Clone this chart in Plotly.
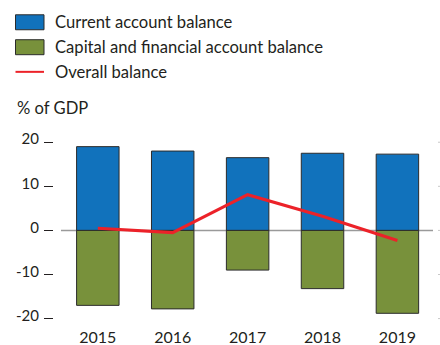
import plotly.graph_objects as go

# Data (% of GDP)
years = ["2015", "2016", "2017", "2018", "2019"]
current_account = [19.0, 18.0, 16.5, 17.5, 17.3]
capital_financial = [-17.0, -17.8, -9.0, -13.2, -18.8]
overall_balance = [0.5, -0.5, 8.1, 3.2, -2.3]
series_names = ["Current account balance", "Capital and financial account balance", "Overall balance"]
y_ticks = [20, 10, 0, -10, -20]

BLUE = "#1172BC"
GREEN = "#78913B"
RED = "#EC2229"
OUTLINE = "#2b2b2b"
TEXT = "#231F20"
FONT = "Lato"

W, H = 440, 345
L, R, T, B = 54, 0, 129, 21.5
PW, PH = W - L - R, H - T - B

x = list(range(len(years)))

fig = go.Figure()
fig.add_trace(go.Bar(x=x, y=current_account, marker=dict(color=BLUE, line=dict(color=OUTLINE, width=1)),
                     width=0.567, name=series_names[0], showlegend=False))
fig.add_trace(go.Bar(x=x, y=capital_financial, marker=dict(color=GREEN, line=dict(color=OUTLINE, width=1)),
                     width=0.567, name=series_names[1], showlegend=False))
fig.add_trace(go.Scatter(x=x, y=overall_balance, mode="lines", line=dict(color=RED, width=3),
                         name=series_names[2], showlegend=False))


def px(xp):
    return (xp - L) / PW


def py(yp):
    return (H - B - yp) / PH


shapes = []
# zero line
shapes.append(dict(type="line", xref="x", yref="y", x0=-0.492, x1=4.475, y0=0, y1=0,
                   line=dict(color="#9a9a9a", width=1.5), layer="below"))
# faint tick marks at the right edge
for v in y_ticks:
    shapes.append(dict(type="line", xref="paper", yref="y", x0=px(438), x1=px(440), y0=v, y1=v,
                       line=dict(color="#c8c8c8", width=1)))

# legend
shapes.append(dict(type="rect", xref="paper", yref="paper", x0=px(15.5), x1=px(44), y0=py(14.5), y1=py(29.5),
                   fillcolor=BLUE, line=dict(color=OUTLINE, width=1)))
shapes.append(dict(type="rect", xref="paper", yref="paper", x0=px(15.5), x1=px(44), y0=py(39.5), y1=py(54.5),
                   fillcolor=GREEN, line=dict(color=OUTLINE, width=1)))
shapes.append(dict(type="line", xref="paper", yref="paper", x0=px(15.5), x1=px(44), y0=py(71.7), y1=py(71.7),
                   line=dict(color=RED, width=2)))

annotations = []
for name, yc in zip(series_names, [22, 47, 72]):
    annotations.append(dict(text=name, xref="paper", yref="paper", x=px(53), y=py(yc),
                            xanchor="left", yanchor="middle", showarrow=False,
                            font=dict(family=FONT, size=16.6, color=TEXT)))
annotations.append(dict(text="% of GDP", xref="paper", yref="paper", x=px(15), y=py(108),
                        xanchor="left", yanchor="middle", showarrow=False,
                        font=dict(family=FONT, size=16.6, color=TEXT)))

fig.update_layout(
    width=W, height=H,
    margin=dict(l=L, r=R, t=T, b=B),
    paper_bgcolor="white", plot_bgcolor="white",
    barmode="relative",
    shapes=shapes, annotations=annotations,
    font=dict(family=FONT, color=TEXT),
)
fig.update_xaxes(range=[-0.585, -0.585 + PW / 74.9], tickvals=x, ticktext=years,
                 showgrid=False, zeroline=False, showline=False, ticks="",
                 ticklabelstandoff=3,
                 tickfont=dict(family=FONT, size=16, color=TEXT))
fig.update_yaxes(range=[-21, 23], tickvals=y_ticks, ticktext=[str(v) for v in y_ticks],
                 showgrid=False, zeroline=False, showline=False,
                 ticks="outside", ticklen=9, tickwidth=1.3, tickcolor=TEXT,
                 ticklabelstandoff=2, ticklabelshift=-3,
                 tickfont=dict(family=FONT, size=15, color=TEXT))

fig.write_html("out.html")
